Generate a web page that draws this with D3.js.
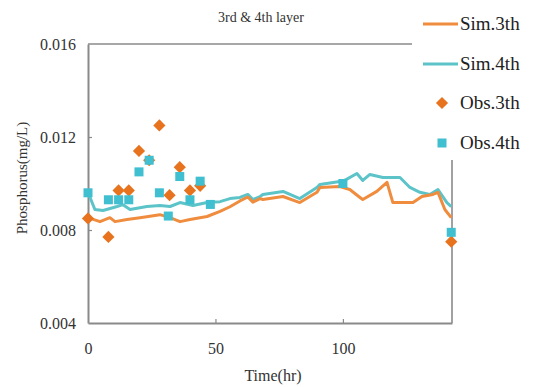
<!DOCTYPE html>
<html>
<head>
<meta charset="utf-8">
<script src="https://cdn.jsdelivr.net/npm/d3@7"></script>
<style>
  body { margin:0; background:#fff; }
  svg { display:block; font-family:"Liberation Serif","DejaVu Serif",serif; }
</style>
</head>
<body>
<svg id="chart" width="539" height="387"></svg>
<script>
// --- Data ---
const sim3T = [0,4.7,8.6,10.6,15.3,20.4,28.2,32.2,36.1,40,46.7,51.8,55.7,59.6,62.7,64.7,67.5,68.6,76.5,83.1,89.8,91,98.8,102.7,106.7,107.8,113.3,117.3,119.6,127.5,131,135.3,137.3,140,142.5];
const sim3V = [0.00853,0.00836,0.00853,0.00836,0.00845,0.00853,0.00866,0.00853,0.00836,0.00845,0.00858,0.00880,0.00900,0.00925,0.00942,0.00920,0.00935,0.00931,0.00944,0.00918,0.00962,0.00983,0.00987,0.00974,0.00940,0.00931,0.00966,0.01005,0.00918,0.00918,0.00944,0.00953,0.00962,0.00888,0.00853];

const sim4T = [0,2.7,5.9,11.4,13.7,16.5,23.1,28.2,32.2,36.1,41.2,46.7,51.8,55.7,59.6,62.7,64.7,67.5,68.6,76.5,83.1,89.8,91,98.8,100,105.5,107.8,110.6,115.7,122.4,126.3,130.2,134.1,137.3,140.8,142.5];
const sim4V = [0.00962,0.00888,0.00884,0.00901,0.00909,0.00888,0.00901,0.00905,0.00901,0.00918,0.00905,0.00918,0.00922,0.00935,0.00940,0.00953,0.00931,0.00944,0.00953,0.00966,0.00935,0.00983,0.00996,0.01009,0.01009,0.01043,0.01013,0.01039,0.01026,0.01026,0.00983,0.00962,0.00953,0.00974,0.00918,0.00901];

const obs3T = [0,8,12,16,20,24,28,32,36,40,44,142.5];
const obs3V = [0.0085,0.0077,0.0097,0.0097,0.0114,0.0110,0.0125,0.0095,0.0107,0.0097,0.0099,0.0075];

const obs4T = [0,8,12,16,20,24,28,31.5,36,40,44,48,100,142.5];
const obs4V = [0.0096,0.0093,0.0093,0.0093,0.0105,0.0110,0.0096,0.0086,0.0103,0.0093,0.0101,0.0091,0.0100,0.0079];

const xTicks = [0,50,100];
const yTicks = [0.004,0.008,0.012,0.016];

const C3 = "#f08c3e", C4 = "#5cc4c9", D3c = "#e8731f", S4c = "#3fbfd0";

// --- Layout ---
const svg = d3.select("#chart");
const M = {l:88, t:44, r:452, b:323};
const x = d3.scaleLinear().domain([0,142.8]).range([M.l, M.r]);
const y = d3.scaleLinear().domain([0.004,0.016]).range([M.b, M.t]);
const axisCol = "#8a8a8a", txtCol = "#333";

// frame pieces (legend covers the top-right corner)
svg.append("line").attr("x1",M.l).attr("x2",412).attr("y1",M.t).attr("y2",M.t)
  .attr("stroke",axisCol).attr("stroke-width",1.6);
svg.append("line").attr("x1",M.r).attr("x2",M.r).attr("y1",160).attr("y2",M.b)
  .attr("stroke",axisCol).attr("stroke-width",1.6);

// axes with inward ticks
const gx = svg.append("g").attr("transform",`translate(0,${M.b})`)
  .call(d3.axisBottom(x).tickValues(xTicks).tickSizeInner(-4).tickSizeOuter(0).tickPadding(20).tickFormat(d3.format("d")));
const gy = svg.append("g").attr("transform",`translate(${M.l},0)`)
  .call(d3.axisLeft(y).tickValues(yTicks).tickSizeInner(-4).tickSizeOuter(0).tickPadding(12).tickFormat(d3.format(".3f")));
[gx,gy].forEach(g=>{
  g.select(".domain").attr("stroke",axisCol).attr("stroke-width",2);
  g.selectAll(".tick line").attr("stroke",axisCol).attr("stroke-width",1.2);
  g.selectAll(".tick text").attr("fill",txtCol).attr("font-size",16)
    .attr("font-family","Liberation Serif, serif");
});
gy.selectAll(".tick line").filter(d=>d===0.004||d===0.016).remove();
gx.selectAll(".tick line").filter(d=>d===0).remove();

// --- lines ---
const line = d3.line().x(d=>x(d[0])).y(d=>y(d[1]));
svg.append("path").datum(d3.zip(sim4T,sim4V)).attr("d",line)
  .attr("fill","none").attr("stroke",C4).attr("stroke-width",3).attr("stroke-linejoin","round");
svg.append("path").datum(d3.zip(sim3T,sim3V)).attr("d",line)
  .attr("fill","none").attr("stroke",C3).attr("stroke-width",3).attr("stroke-linejoin","round");

// --- markers ---
const diamond = d3.symbol().type(d3.symbolDiamond2).size(95);
svg.append("g").selectAll("path").data(d3.zip(obs3T,obs3V)).join("path")
  .attr("d",diamond).attr("transform",d=>`translate(${x(d[0])},${y(d[1])})`)
  .attr("fill",D3c);
svg.append("g").selectAll("rect").data(d3.zip(obs4T,obs4V)).join("rect")
  .attr("x",d=>x(d[0])-4.5).attr("y",d=>y(d[1])-4.5).attr("width",9).attr("height",9)
  .attr("fill",S4c);

// --- titles ---
svg.append("text").attr("x",261).attr("y",22).attr("text-anchor","middle")
  .attr("font-size",14).attr("fill",txtCol).text("3rd & 4th layer");
svg.append("text").attr("transform","translate(27,178) rotate(-90)").attr("text-anchor","middle")
  .attr("font-size",15).attr("fill",txtCol).text("Phosphorus(mg/L)");
svg.append("text").attr("x",273).attr("y",381).attr("text-anchor","middle")
  .attr("font-size",16).attr("fill",txtCol).text("Time(hr)");

// --- legend ---
const legend = [
  {name:"Sim.3th", kind:"line", col:C3, y:24},
  {name:"Sim.4th", kind:"line", col:C4, y:64},
  {name:"Obs.3th", kind:"diamond", col:D3c, y:103},
  {name:"Obs.4th", kind:"square", col:S4c, y:143}
];
const lg = svg.append("g");
legend.forEach(d=>{
  if(d.kind==="line"){
    lg.append("line").attr("x1",423).attr("x2",458).attr("y1",d.y).attr("y2",d.y)
      .attr("stroke",d.col).attr("stroke-width",3);
  } else if(d.kind==="diamond"){
    lg.append("path").attr("d",diamond).attr("transform",`translate(442,${d.y})`).attr("fill",d.col);
  } else {
    lg.append("rect").attr("x",437.5).attr("y",d.y-4.5).attr("width",9).attr("height",9).attr("fill",d.col);
  }
  lg.append("text").attr("x",460).attr("y",d.y+6).attr("font-size",19)
    .attr("fill","#222").text(d.name);
});
</script>
</body>
</html>
